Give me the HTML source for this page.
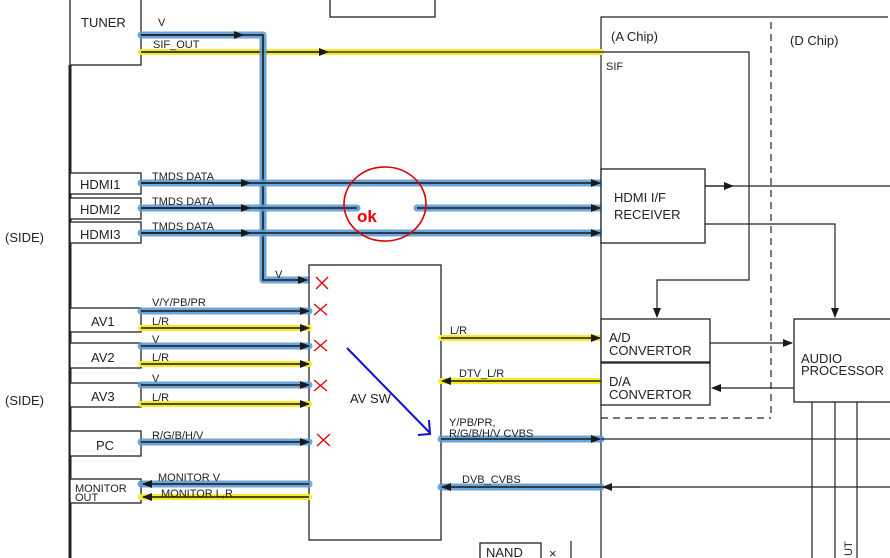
<!DOCTYPE html>
<html><head><meta charset="utf-8"><style>
html,body{margin:0;padding:0;background:#fff;}
svg{display:block;font-family:"Liberation Sans",Arial,sans-serif;}
.t{font-size:11px;fill:#222;}
.b{font-size:13px;fill:#222;}
.bl{stroke:#5b9bd5;stroke-width:7;fill:none;stroke-linecap:round;stroke-linejoin:round;opacity:.9}
.yl{stroke:#f7ea2a;stroke-width:6;fill:none;stroke-linecap:round}
.k{stroke:#1a1a1a;stroke-width:1.6;fill:none}
.kt{stroke:#222;stroke-width:1.2;fill:none}
.bx{fill:#fff;stroke:#222;stroke-width:1.3}
.x{stroke:#d00;stroke-width:1.3}
</style></head><body>
<svg width="890" height="558" viewBox="0 0 890 558">
<defs>
<marker id="a" markerWidth="10" markerHeight="8" refX="9" refY="4" orient="auto" markerUnits="userSpaceOnUse"><path d="M0,0 L10,4 L0,8 z" fill="#1a1a1a"/></marker>
</defs>
<!-- left bus -->
<line x1="70" y1="65" x2="70" y2="558" stroke="#222" stroke-width="3"/>
<!-- boxes left -->
<rect class="bx" x="70" y="-2" width="71" height="67"/>
<text class="b" x="81" y="27">TUNER</text>
<rect class="bx" x="70" y="173" width="71" height="21"/><text class="b" x="80" y="189">HDMI1</text>
<rect class="bx" x="70" y="198" width="71" height="21"/><text class="b" x="80" y="214">HDMI2</text>
<rect class="bx" x="70" y="222" width="71" height="21"/><text class="b" x="80" y="239">HDMI3</text>
<rect class="bx" x="70" y="308" width="71" height="24"/><text class="b" x="91" y="326">AV1</text>
<rect class="bx" x="70" y="343" width="71" height="25"/><text class="b" x="91" y="362">AV2</text>
<rect class="bx" x="70" y="383" width="71" height="24"/><text class="b" x="91" y="401">AV3</text>
<rect class="bx" x="70" y="431" width="71" height="25"/><text class="b" x="96" y="450">PC</text>
<rect class="bx" x="70" y="479" width="71" height="24"/><text class="t" x="75" y="492">MONITOR</text><text class="t" x="75" y="501">OUT</text>
<text class="b" x="5" y="242">(SIDE)</text>
<text class="b" x="5" y="405">(SIDE)</text>
<rect class="bx" x="330" y="-2" width="105" height="19"/>
<!-- chip region -->
<polyline class="kt" points="601,558 601,17 888,17"/>
<line x1="771" y1="22" x2="771" y2="418" stroke="#222" stroke-width="1.2" stroke-dasharray="7,5"/>
<line x1="601" y1="418" x2="771" y2="418" stroke="#222" stroke-width="1.2" stroke-dasharray="7,5"/>
<text class="b" x="611" y="41">(A Chip)</text>
<text class="b" x="790" y="45">(D Chip)</text>
<text class="t" x="606" y="70">SIF</text>
<!-- SIF -->
<line class="yl" x1="141" y1="52" x2="601" y2="52"/>
<polyline class="kt" points="141,52 749,52 749,280 657,280 657,317" marker-end="url(#a)"/>
<line class="k" x1="141" y1="52" x2="328" y2="52" marker-end="url(#a)"/>
<text class="t" x="153" y="48">SIF_OUT</text>
<!-- tuner V -->
<polyline class="bl" points="141,35 263,35 263,280 309,280"/>
<polyline class="k" points="141,35 263,35 263,280 307,280" marker-end="url(#a)"/>
<line class="k" x1="141" y1="35" x2="243" y2="35" marker-end="url(#a)"/>
<text class="t" x="158" y="26">V</text><text class="t" x="275" y="278">V</text>
<!-- HDMI lines -->
<line class="bl" x1="141" y1="183" x2="601" y2="183"/><line class="k" x1="141" y1="183" x2="600" y2="183" marker-end="url(#a)"/><line class="k" x1="141" y1="183" x2="250" y2="183" marker-end="url(#a)"/>
<line class="bl" x1="141" y1="208" x2="357" y2="208"/><line class="bl" x1="417" y1="208" x2="601" y2="208"/>
<line class="k" x1="141" y1="208" x2="357" y2="208"/><line class="k" x1="417" y1="208" x2="600" y2="208" marker-end="url(#a)"/><line class="k" x1="141" y1="208" x2="250" y2="208" marker-end="url(#a)"/>
<line class="bl" x1="141" y1="233" x2="601" y2="233"/><line class="k" x1="141" y1="233" x2="600" y2="233" marker-end="url(#a)"/><line class="k" x1="141" y1="233" x2="250" y2="233" marker-end="url(#a)"/>
<text class="t" x="152" y="180">TMDS DATA</text><text class="t" x="152" y="205">TMDS DATA</text><text class="t" x="152" y="230">TMDS DATA</text>
<ellipse cx="385" cy="204" rx="41" ry="37" fill="none" stroke="#d00" stroke-width="1.6"/>
<text x="357" y="222" font-size="17" font-weight="bold" fill="#e00">ok</text>
<!-- HDMI rx -->
<rect class="bx" x="601" y="169" width="104" height="74"/>
<text class="b" x="614" y="202">HDMI I/F</text><text class="b" x="614" y="219">RECEIVER</text>
<line class="kt" x1="705" y1="186" x2="890" y2="186"/><line class="kt" x1="705" y1="186" x2="733" y2="186" marker-end="url(#a)"/>
<polyline class="kt" points="705,224 835,224 835,317" marker-end="url(#a)"/>
<!-- AV SW -->
<rect class="bx" x="309" y="265" width="132" height="275"/>
<text class="b" x="350" y="403">AV SW</text>
<g>
<line class="bl" x1="141" y1="311" x2="309" y2="311"/><line class="k" x1="141" y1="311" x2="309" y2="311" marker-end="url(#a)"/>
<line class="yl" x1="141" y1="328" x2="309" y2="328"/><line class="k" x1="141" y1="328" x2="309" y2="328" marker-end="url(#a)"/>
<line class="bl" x1="141" y1="346" x2="309" y2="346"/><line class="k" x1="141" y1="346" x2="309" y2="346" marker-end="url(#a)"/>
<line class="yl" x1="141" y1="364" x2="309" y2="364"/><line class="k" x1="141" y1="364" x2="309" y2="364" marker-end="url(#a)"/>
<line class="bl" x1="141" y1="385" x2="309" y2="385"/><line class="k" x1="141" y1="385" x2="309" y2="385" marker-end="url(#a)"/>
<line class="yl" x1="141" y1="404" x2="309" y2="404"/><line class="k" x1="141" y1="404" x2="309" y2="404" marker-end="url(#a)"/>
<line class="bl" x1="141" y1="442" x2="309" y2="442"/><line class="k" x1="141" y1="442" x2="309" y2="442" marker-end="url(#a)"/>
<line class="bl" x1="141" y1="484" x2="309" y2="484"/><line class="k" x1="309" y1="484" x2="143" y2="484" marker-end="url(#a)"/>
<line class="yl" x1="141" y1="497" x2="309" y2="497"/><line class="k" x1="309" y1="497" x2="143" y2="497" marker-end="url(#a)"/>
</g>
<text class="t" x="152" y="306">V/Y/PB/PR</text><text class="t" x="152" y="325">L/R</text>
<text class="t" x="152" y="343">V</text><text class="t" x="152" y="361">L/R</text>
<text class="t" x="152" y="382">V</text><text class="t" x="152" y="401">L/R</text>
<text class="t" x="152" y="439">R/G/B/H/V</text>
<text class="t" x="158" y="481">MONITOR V</text><text class="t" x="161" y="497">MONITOR L,R</text>
<g class="x">
<path d="M316,277 l12,12 M328,277 l-12,12"/>
<path d="M314,304 l13,11 M327,304 l-13,11"/>
<path d="M314,340 l13,11 M327,340 l-13,11"/>
<path d="M314,380 l13,11 M327,380 l-13,11"/>
<path d="M317,434 l13,12 M330,434 l-13,12"/>
</g>
<line x1="347" y1="348" x2="430" y2="433" stroke="#1010d0" stroke-width="2"/>
<path d="M429,420 L430,434 L418,435" stroke="#1010d0" stroke-width="2" fill="none"/>
<!-- right of AV SW -->
<line class="yl" x1="441" y1="338" x2="601" y2="338"/><line class="k" x1="441" y1="338" x2="600" y2="338" marker-end="url(#a)"/>
<text class="t" x="450" y="334">L/R</text>
<line class="yl" x1="441" y1="381" x2="601" y2="381"/><line class="k" x1="601" y1="381" x2="442" y2="381" marker-end="url(#a)"/>
<text class="t" x="459" y="377">DTV_L/R</text>
<line class="bl" x1="441" y1="439" x2="601" y2="439"/><line class="k" x1="441" y1="439" x2="600" y2="439" marker-end="url(#a)"/>
<line class="kt" x1="601" y1="439" x2="890" y2="439"/>
<text class="t" x="449" y="426">Y/PB/PR,</text><text class="t" x="449" y="437">R/G/B/H/V CVBS</text>
<line class="bl" x1="441" y1="487" x2="601" y2="487"/><line class="k" x1="601" y1="487" x2="442" y2="487" marker-end="url(#a)"/>
<line class="kt" x1="890" y1="487" x2="601" y2="487"/><line class="kt" x1="640" y1="487" x2="603" y2="487" marker-end="url(#a)"/>
<text class="t" x="462" y="483">DVB_CVBS</text>
<!-- converters -->
<rect class="bx" x="601" y="319" width="109" height="43"/>
<text class="b" x="609" y="342">A/D</text><text class="b" x="609" y="355">CONVERTOR</text>
<rect class="bx" x="601" y="363" width="109" height="42"/>
<text class="b" x="609" y="386">D/A</text><text class="b" x="609" y="399">CONVERTOR</text>
<rect class="bx" x="794" y="319" width="100" height="83"/>
<text class="b" x="801" y="363">AUDIO</text><text class="b" x="801" y="375">PROCESSOR</text>
<line class="kt" x1="710" y1="343" x2="792" y2="343" marker-end="url(#a)"/>
<line class="kt" x1="794" y1="388" x2="712" y2="388" marker-end="url(#a)"/>
<line class="kt" x1="812" y1="402" x2="812" y2="558"/>
<line class="kt" x1="835" y1="402" x2="835" y2="558"/>
<line class="kt" x1="857" y1="402" x2="857" y2="558"/>
<text class="t" x="852" y="556" transform="rotate(-90 852 556)">UT</text>
<rect class="bx" x="480" y="543" width="61" height="20"/>
<text class="b" x="486" y="557">NAND</text>
<line class="kt" x1="571" y1="541" x2="571" y2="558"/>
<text class="b" x="549" y="558">×</text>
</svg>
</body></html>
